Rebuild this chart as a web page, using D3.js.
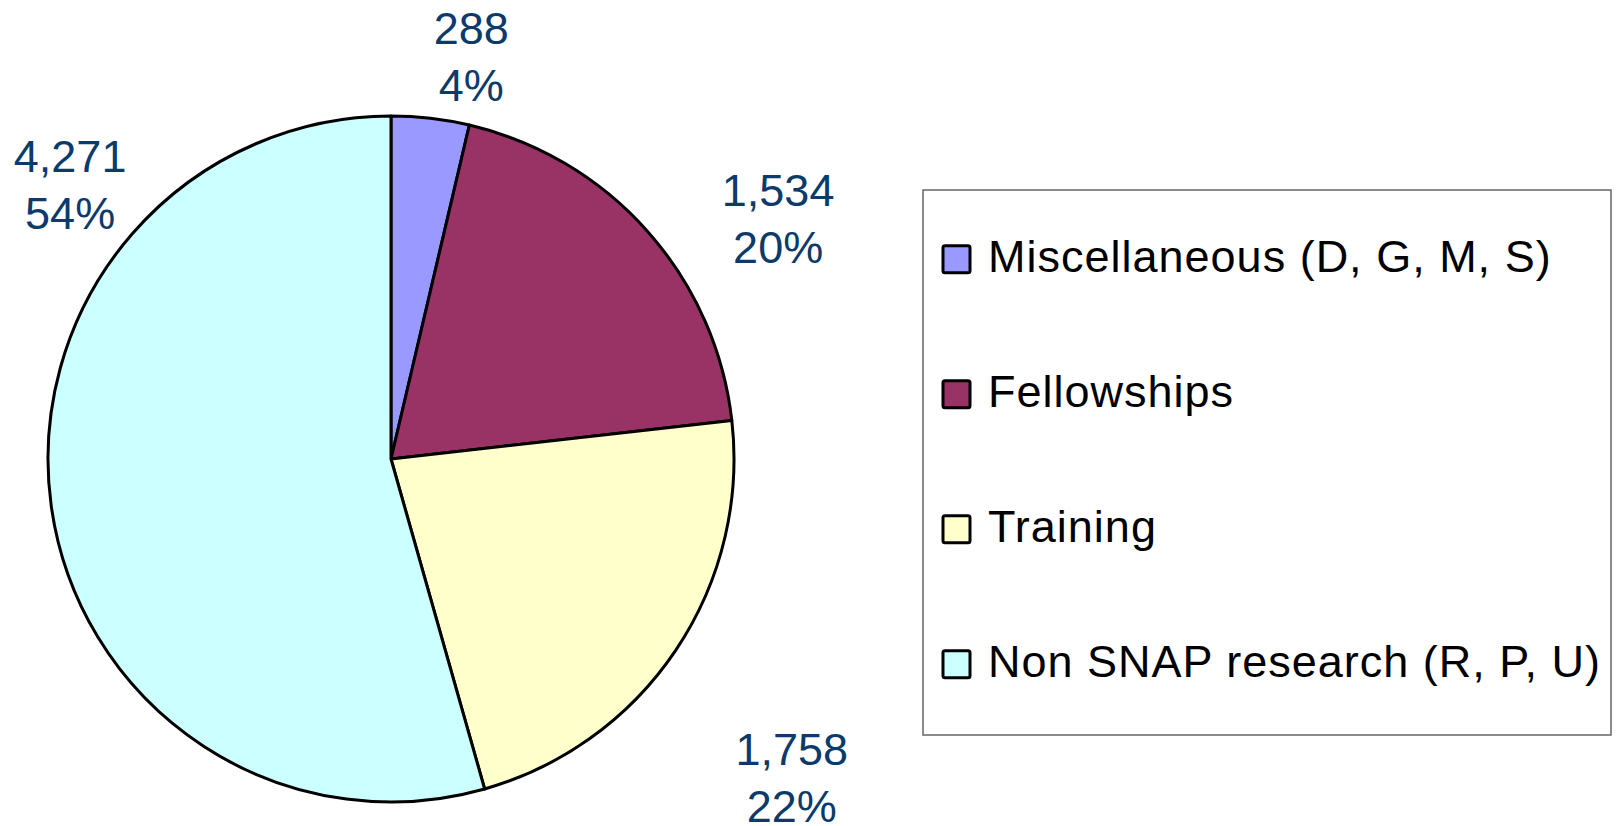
<!DOCTYPE html>
<html>
<head>
<meta charset="utf-8">
<script src="https://cdn.jsdelivr.net/npm/d3@7"></script>
<style>
  html, body { margin: 0; padding: 0; background: #fff; }
  svg { display: block; font-family: "Liberation Sans", Arial, sans-serif; }
</style>
</head>
<body>
<svg id="chart"></svg>
<script>
// data
const categories = ["Miscellaneous (D, G, M, S)", "Fellowships", "Training", "Non SNAP research (R, P, U)"];
const values = [288, 1534, 1758, 4271];
const percents = ["4%", "20%", "22%", "54%"];
const colors = ["#9999ff", "#993366", "#ffffcc", "#ccffff"];

const width = 1616, height = 826;

const svg = d3.select("#chart")
    .attr("width", width)
    .attr("height", height);

// pie geometry
const cx = 391, cy = 459, radius = 343;

const pie = d3.pie().sort(null).value(d => d);
const arc = d3.arc().innerRadius(0).outerRadius(radius);

const arcs = pie(values);

const pieG = svg.append("g").attr("transform", `translate(${cx},${cy})`);

pieG.selectAll("path.slice")
    .data(arcs)
    .join("path")
    .attr("class", "slice")
    .attr("d", arc)
    .attr("fill", (d, i) => colors[i])
    .attr("stroke", "#000")
    .attr("stroke-width", 3)
    .attr("stroke-linejoin", "round");

// label placement (excel nudges them around), angle in degrees from 12 o'clock + distance
const labelPolar = [[11.3, 410], [58.1, 456], [128.5, 512], [310.5, 422]];
const fmt = d3.format(",");

const labels = pieG.selectAll("text.lbl")
    .data(arcs)
    .join("text")
    .attr("class", "lbl")
    .attr("text-anchor", "middle")
    .attr("font-size", 45)
    .attr("fill", "#0b3a6b")
    .attr("transform", (d, i) => {
        const a = labelPolar[i][0] * Math.PI / 180, r = labelPolar[i][1];
        return `translate(${r * Math.sin(a)},${-r * Math.cos(a)})`;
    });

labels.append("tspan")
    .attr("x", 0).attr("y", -12.5)
    .text(d => fmt(d.data));
labels.append("tspan")
    .attr("x", 0).attr("y", 44.5)
    .text((d, i) => percents[i]);

// legend
const legend = svg.append("g");
legend.append("rect")
    .attr("x", 923).attr("y", 190)
    .attr("width", 688).attr("height", 545)
    .attr("fill", "#fff")
    .attr("stroke", "#666")
    .attr("stroke-width", 1.5);

const itemY = d3.scalePoint().domain(categories).range([271.7, 676.7]);

const items = legend.selectAll("g.item")
    .data(categories)
    .join("g")
    .attr("class", "item")
    .attr("transform", d => `translate(0,${itemY(d)})`);

items.append("rect")
    .attr("x", 943).attr("y", -26)
    .attr("width", 27).attr("height", 27)
    .attr("rx", 2)
    .attr("fill", (d, i) => colors[i])
    .attr("stroke", "#000")
    .attr("stroke-width", 3);

items.append("text")
    .attr("x", 988)
    .attr("font-size", 45)
    .attr("letter-spacing", 1)
    .attr("fill", "#000")
    .text(d => d);
</script>
</body>
</html>
